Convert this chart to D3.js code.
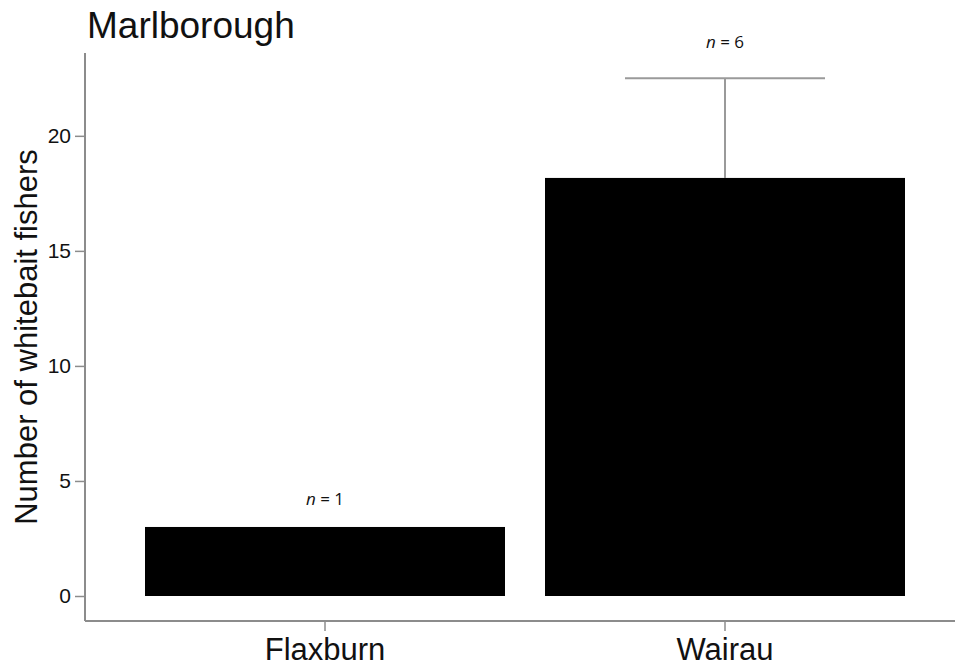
<!DOCTYPE html>
<html><head><meta charset="utf-8">
<script src="https://cdn.jsdelivr.net/npm/d3@7"></script>
<style>body{margin:0;background:#fff;}svg{display:block;}</style>
</head><body>
<svg id="c" width="955" height="670"></svg>
<script>
const categories = ["Flaxburn", "Wairau"];
const values = [3.0, 18.17];
const errorUpper = [null, 22.5];
const nLabels = ["1", "6"];
const yTicks = [0, 5, 10, 15, 20];
const title = "Marlborough";
const yLabel = "Number of whitebait fishers";

const svg = d3.select("#c");
const font = "Liberation Sans, Arial, sans-serif";
const axisColor = "#8c8c8c";

const x = d3.scaleBand().domain(categories).range([125, 925]).paddingInner(0.1).paddingOuter(0.05);
const y = d3.scaleLinear().domain([0, 23.6]).range([596, 53]);
const xAxisY = 621;

// bars
svg.selectAll("rect.bar").data(categories).enter().append("rect")
  .attr("x", d => x(d)).attr("width", x.bandwidth())
  .attr("y", (d,i) => y(values[i])).attr("height", (d,i) => y(0) - y(values[i]))
  .attr("fill", "#000");

// error bars
categories.forEach((c,i) => {
  if (errorUpper[i] == null) return;
  const cx = x(c) + x.bandwidth()/2;
  svg.append("line").attr("x1", cx).attr("x2", cx).attr("y1", y(values[i])).attr("y2", y(errorUpper[i]))
    .attr("stroke", "#9a9a9a").attr("stroke-width", 2);
  svg.append("line").attr("x1", cx - 100).attr("x2", cx + 100).attr("y1", y(errorUpper[i])).attr("y2", y(errorUpper[i]))
    .attr("stroke", "#9a9a9a").attr("stroke-width", 2);
});

// n labels
categories.forEach((c,i) => {
  const cx = x(c) + x.bandwidth()/2;
  const hasErr = errorUpper[i] != null;
  const top = hasErr ? y(errorUpper[i]) : y(values[i]);
  const t = svg.append("text").attr("x", cx).attr("y", top - (hasErr ? 30 : 22)).attr("text-anchor", "middle")
    .attr("font-family", "Open Sans, Liberation Sans, sans-serif").attr("font-size", 17).attr("fill", "#111");
  t.append("tspan").attr("font-style", "italic").text("n");
  t.append("tspan").text(" = " + nLabels[i]);
});

// y axis
const yAxis = svg.append("g").attr("transform", "translate(85,0)")
  .call(d3.axisLeft(y).tickValues(yTicks).tickSize(10).tickPadding(4).tickSizeOuter(0));
yAxis.select(".domain").remove();
yAxis.selectAll(".tick line").attr("stroke", axisColor).attr("stroke-width", 1.5);
yAxis.selectAll(".tick text").attr("font-family", font).attr("font-size", 21).attr("fill", "#111");
svg.append("line").attr("x1", 85).attr("x2", 85).attr("y1", y.range()[1]).attr("y2", xAxisY)
  .attr("stroke", axisColor).attr("stroke-width", 2);

// x axis
const xAxis = svg.append("g").attr("transform", `translate(0,${xAxisY})`)
  .call(d3.axisBottom(x).tickSize(10).tickPadding(7).tickSizeOuter(0));
xAxis.select(".domain").remove();
xAxis.selectAll(".tick line").attr("stroke", axisColor).attr("stroke-width", 1.5);
xAxis.selectAll(".tick text").attr("font-family", font).attr("font-size", 31).attr("fill", "#111");
svg.append("line").attr("x1", 85).attr("x2", 955).attr("y1", xAxisY).attr("y2", xAxisY)
  .attr("stroke", axisColor).attr("stroke-width", 2);

// y label
svg.append("text").attr("transform", "translate(37,337) rotate(-90)").attr("text-anchor", "middle")
  .attr("font-family", font).attr("font-size", 31).attr("fill", "#111").text(yLabel);

// title
svg.append("text").attr("x", 87).attr("y", 38).attr("font-family", font).attr("font-size", 37)
  .attr("fill", "#111").text(title);
</script>
</body></html>
